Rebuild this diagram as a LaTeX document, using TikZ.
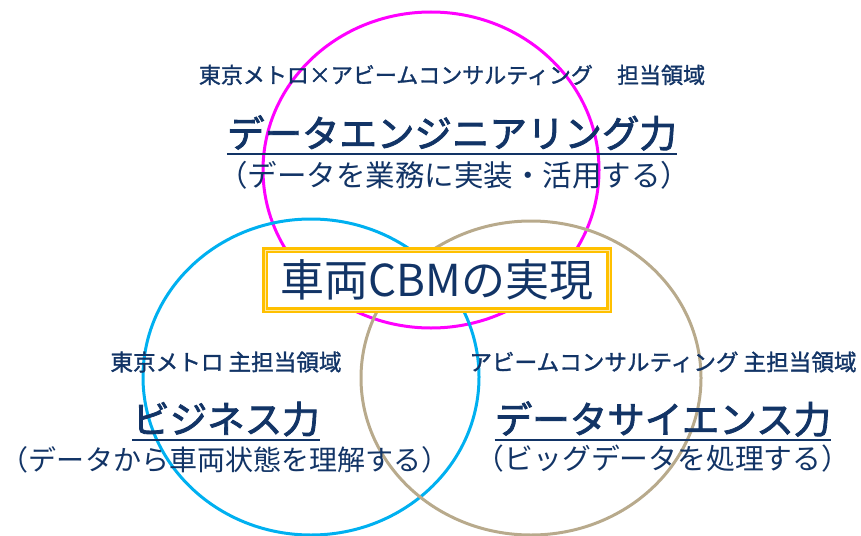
\documentclass[tikz,border=0pt]{standalone}
\usepackage{fontspec}
\setmainfont{Noto Sans CJK JP}
\newfontfamily\medjp{Noto Sans CJK JP}[FakeBold=1.3]
\newfontfamily\semijp{Noto Sans CJK JP}[FakeBold=2.2]
\definecolor{navy}{RGB}{18,52,102}
\definecolor{ringpink}{RGB}{255,0,255}
\definecolor{ringblue}{RGB}{0,176,240}
\definecolor{ringtan}{RGB}{184,170,140}
\definecolor{gold}{RGB}{255,192,0}

\begin{document}
\begin{tikzpicture}
[x=1pt,y=-1pt,inner sep=0pt,
ring/.style={line width=3pt},
owner/.style={text=navy,font=\medjp\fontsize{22.6}{26}\selectfont},
skill/.style={text=navy,font=\semijp\fontsize{37.5}{42}\selectfont},
role/.style={text=navy,font=\fontsize{#1}{32}\selectfont},
uline/.style={navy,line width=2pt},
goal/.style={draw=gold,line width=2.4pt,double=gold!35,double distance=0.9pt,fill=white,
  minimum width=344pt,minimum height=60pt,text=navy,font=\fontsize{44}{48}\selectfont}]
\useasboundingbox (0,0) rectangle (861,535);
% three fields
\draw[ring,ringpink] (431,170) ellipse [x radius=168pt, y radius=158pt];
\draw[ring,ringblue] (311,377) ellipse [x radius=168pt, y radius=158pt];
\draw[ring,ringtan] (531,378) ellipse [x radius=170pt, y radius=157pt];
% centre
\node[goal] (cbm) at (437,280) {車両CBMの実現};
% top field
\node[owner,font=\medjp\fontsize{22}{26}\selectfont] (topown) at (452,75) {東京メトロ×アビームコンサルティング\hspace{1.1em}担当領域};
\node[skill] (topskill) at (452,133) {データエンジニアリング力};
\node[role=29.5] (toprole) at (454,175) {（データを業務に実装・活用する）};
\draw[uline] ([yshift=-7pt]topskill.base west) -- ([yshift=-7pt]topskill.base east);
% left field
\node[owner] (leftown) at (226,362) {東京メトロ 主担当領域};
\node[skill] (leftskill) at (226,419) {ビジネス力};
\node[role=28] (leftrole) at (225,460) {（データから車両状態を理解する）};
\draw[uline] ([yshift=-7pt]leftskill.base west) -- ([yshift=-7pt]leftskill.base east);
% right field
\node[owner] (rightown) at (663,362) {アビームコンサルティング 主担当領域};
\node[skill] (rightskill) at (663,419) {データサイエンス力};
\node[role=28.8] (rightrole) at (663,459) {（ビッグデータを処理する）};
\draw[uline] ([yshift=-7pt]rightskill.base west) -- ([yshift=-7pt]rightskill.base east);
\end{tikzpicture}
\end{document}
